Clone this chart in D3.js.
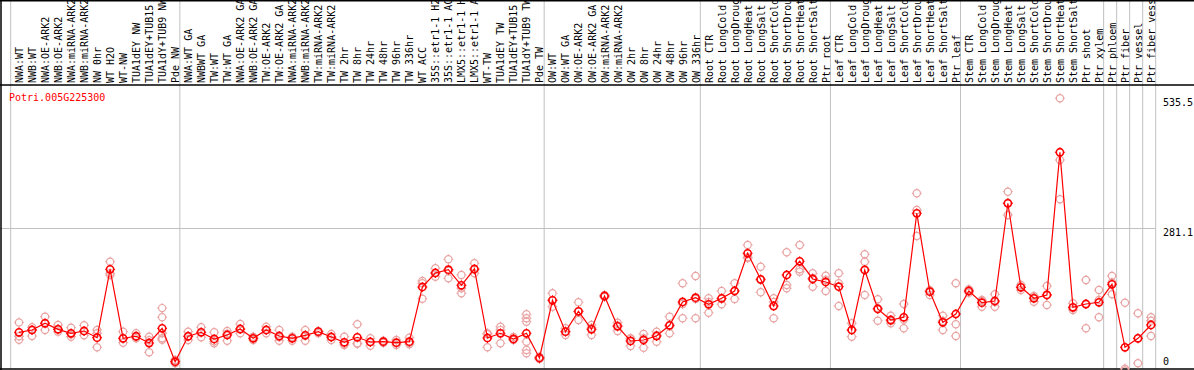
<!DOCTYPE html>
<html>
<head>
<meta charset="utf-8">
<script src="https://cdn.jsdelivr.net/npm/d3@7"></script>
<style>
  body { margin: 0; background: #fff; }
  svg { display: block; }
  text { font-family: "DejaVu Sans Mono", monospace; font-size: 10px; }
</style>
</head>
<body>
<div id="chart"></div>
<script>
// gene shown
const geneId = "Potri.005G225300";

// sample labels (already cut to 14 chars like the original)
const samples = [
  "NWA:WT", "NWB:WT", "NWA:OE-ARK2", "NWB:OE-ARK2", "NWA:miRNA-ARK2", "NWB:miRNA-ARK2",
  "NW 0hr", "WT H2O", "WT-NW", "TUA1dEY NW", "TUA1dEY+TUB15", "TUA1dY+TUB9 NW", "Pde NW",
  "NWA:WT GA", "NWBWT GA", "TW:WT", "TW:WT GA", "NWA:OE-ARK2 GA", "NWB:OE-ARK2 GA",
  "TW:OE-ARK2", "TW:OE-ARK2 GA", "NWA:miRNA-ARK2", "NWB:miRNA-ARK2", "TW:miRNA-ARK2",
  "TW:miRNA-ARK2", "TW 2hr", "TW 8hr", "TW 24hr", "TW 48hr", "TW 96hr", "TW 336hr",
  "WT ACC", "35S::etr1-1 H2", "35S::etr1-1 AC", "LMX5::etr1-1 H", "LMX5::etr1-1 A",
  "WT-TW", "TUA1dEY TW", "TUA1dEY+TUB15", "TUA1dY+TUB9 TW", "Pde TW",
  "OW:WT", "OW:WT GA", "OW:OE-ARK2", "OW:OE-ARK2 GA", "OW:miRNA-ARK2", "OW:miRNA-ARK2",
  "OW 2hr", "OW 8hr", "OW 24hr", "OW 48hr", "OW 96hr", "OW 336hr",
  "Root CTR", "Root LongCold", "Root LongDroug", "Root LongHeat", "Root LongSalt",
  "Root ShortCold", "Root ShortDrou", "Root ShortHeat", "Root ShortSalt", "Ptr root",
  "Leaf CTR", "Leaf LongCold", "Leaf LongDroug", "Leaf LongHeat", "Leaf LongSalt",
  "Leaf ShortCold", "Leaf ShortDrou", "Leaf ShortHeat", "Leaf ShortSalt", "Ptr leaf",
  "Stem CTR", "Stem LongCold", "Stem LongDroug", "Stem LongHeat", "Stem LongSalt",
  "Stem ShortCold", "Stem ShortDrou", "Stem ShortHeat", "Stem ShortSalt", "Ptr shoot",
  "Ptr xylem", "Ptr phloem", "Ptr fiber", "Ptr vessel", "Ptr fiber vess"
];

// how many samples in each group (grey separators)
const groupSizes = [13, 28, 12, 10, 10, 11, 1, 1, 1, 1];

// mean expression per sample
const means = [
  77.7, 82.2, 95.3, 83.5, 75.7, 80.2, 67.1, 200.9, 65.9, 69.9, 56.7, 85.5, 20.2,
  69.9, 77.7, 64.6, 72.4, 84.1, 65.9, 82.2, 70.4, 65.9, 71.8, 78.9, 68.5, 58.1,
  67.9, 58.7, 59.3, 57.3, 59.3, 166.3, 193.7, 200.2, 169.6, 201.5, 66.5, 75.7,
  64.6, 75.7, 27.4,
  140.3, 78.9, 118.8, 83.5, 148.7, 89.4, 60.7, 62.6, 70.4, 91.4, 137.0, 145.4,
  132.5, 144.2, 158.5, 232.2, 181.4, 129.1, 189.8, 216.6, 182.0, 176.1,
  166.9, 82.2, 199.6, 123.3, 101.7, 107.0, 310.5, 157.1, 97.2, 113.5,
  158.5, 135.6, 138.9, 330.1, 165.7, 144.2, 150.7, 429.9, 126.6, 133.0, 136.4,
  171.6, 48.3, 65.9, 92.0
];

// individual replicates per sample
const replicates = [
  [97, 63, 70], [87.5, 70.4, 82], [108.2, 82.2, 96], [92, 78.9, 84], [86.7, 69.1, 74],
  [91.4, 80.2, 72], [82.2, 75.7, 48.3], [215.8, 193.1, 189.8], [78.9, 57.3, 65],
  [75.7, 65.9, 70], [69.1, 38.5, 62], [125, 107, 76, 63, 66], [23.5, 17, 20],
  [78.9, 62.6, 70], [87.5, 67.9, 78], [77.7, 56.2, 60], [80.2, 61.2, 75], [93.9, 75.7, 84],
  [69.1, 62.6, 66], [88.6, 75.7, 82], [82.2, 61.2, 68], [69.1, 61.2, 67], [82.2, 61.2, 72],
  [80, 76, 79], [74.3, 62.6, 68], [69.1, 52.8, 55], [93.3, 56.2, 55], [65.9, 51.5, 59],
  [61, 57, 59], [62.6, 52.8, 57], [67.1, 54.2, 57], [178, 173.5, 143.4], [202.9, 186.5, 194],
  [220.5, 183.3, 198], [189.8, 154, 164], [212.7, 193.1, 200], [75.7, 48.3, 74],
  [88.6, 56.2, 82], [68.5, 64.6, 62.6], [112.9, 105.1, 98.4, 59.3, 43.0, 36.6],
  [29.9, 27.4, 25.4],
  [154, 127.8, 141], [85.5, 72.4, 79], [136.4, 101.7, 118], [92, 72.4, 86],
  [150.7, 146.7, 148.7], [96.5, 80.2, 91], [65.9, 50.9, 65], [74.3, 47.5, 66],
  [78.9, 59.3, 72], [108.2, 75.7, 90], [173.5, 105.1, 133], [187.8, 105.1, 143],
  [144.2, 116, 137], [158.5, 132.5, 143], [173.5, 142.8, 159], [248.5, 224.4, 223],
  [206, 155.9, 180], [144.2, 105.1, 137], [234.2, 170.2, 163.8], [248.5, 200.9, 196.2],
  [193.1, 166.9, 184], [188.4, 158.5, 180],
  [193.1, 173.5, 129.1], [95.3, 69.1, 82], [230.3, 215.8, 150.7], [142.2, 100.4, 125],
  [110.2, 95.3, 100], [133, 85.5, 102], [349.6, 317, 266.1], [150.7, 160, 159],
  [110.2, 82.2, 100], [173.5, 93.3, 70.4],
  [158.5, 162, 155], [140.9, 127.8, 139], [152, 127.8, 137], [352.8, 307.2, 331],
  [170.2, 160.4, 166], [148.7, 137.5, 146], [168.3, 131.1, 151], [535.5, 414.8, 337.9],
  [134.4, 121.3, 125], [180, 85.5, 133], [160.4, 107, 141],
  [187.8, 152, 175], [135.6, 6.5, 3], [114.8, 17, 66], [107, 100.4, 70.4]
];

// right side tick values
const tickValues = [535.5, 281.1, 0];
const gridValues = [281.1];

const width = 1194, height = 370;
const headerBottom = 85;
const plotLeft = 10.7, plotRight = 1155.7;

const svg = d3.select("#chart").append("svg")
  .attr("width", width)
  .attr("height", height);

const x = d3.scaleBand()
  .domain(samples.map((_, i) => i))
  .range([plotLeft, plotRight]);
const cx = i => x(i) + x.bandwidth() / 2 + 1.8;

const y = d3.scaleLinear()
  .domain([0, 535.5])
  .range([372, 98.3]);

// group separators
let bounds = [0];
groupSizes.forEach(s => bounds.push(bounds[bounds.length - 1] + s));
svg.append("g")
  .selectAll("line")
  .data(bounds)
  .join("line")
  .attr("x1", b => b < samples.length ? x(b) : plotRight)
  .attr("x2", b => b < samples.length ? x(b) : plotRight)
  .attr("y1", 0)
  .attr("y2", 369)
  .attr("stroke", "#c0c0c0")
  .attr("stroke-width", 1);

// horizontal grid
svg.append("g")
  .selectAll("line")
  .data(gridValues)
  .join("line")
  .attr("x1", 0)
  .attr("x2", plotRight)
  .attr("y1", d => Math.round(y(d)) + 0.5)
  .attr("y2", d => Math.round(y(d)) + 0.5)
  .attr("stroke", "#c0c0c0");

// frame lines
const frame = svg.append("g").attr("stroke", "#000").attr("stroke-width", 1.5);
frame.append("line").attr("x1", 0).attr("x2", width).attr("y1", 0.75).attr("y2", 0.75);
frame.append("line").attr("x1", 0).attr("x2", width).attr("y1", headerBottom).attr("y2", headerBottom);
frame.append("line").attr("x1", 0).attr("x2", width).attr("y1", 369).attr("y2", 369);
frame.append("line").attr("x1", 1).attr("x2", 1).attr("y1", 0).attr("y2", 370);

// sample labels (vertical)
svg.append("g")
  .selectAll("text")
  .data(samples)
  .join("text")
  .attr("transform", (d, i) => `translate(${cx(i) + 4},${headerBottom - 2}) rotate(-90)`)
  .attr("fill", "#000")
  .text(d => d);

// gene title
svg.append("text")
  .attr("x", 9)
  .attr("y", 101)
  .attr("fill", "#ff0000")
  .text(geneId);

// right axis labels
svg.append("g")
  .selectAll("text")
  .data(tickValues)
  .join("text")
  .attr("x", 1163)
  .attr("y", d => d === 0 ? 365 : y(d) + 8)
  .attr("fill", "#000")
  .text(d => d === 0 ? "0" : d3.format(".1f")(d));

// marker: small circle with little ticks
function marker(g, color, sw) {
  g.append("circle").attr("r", 3.6).attr("fill", "none").attr("stroke", color).attr("stroke-width", sw);
  [[0, -1], [0, 1], [-1, 0], [1, 0]].forEach(([dx, dy]) => {
    g.append("line")
      .attr("x1", dx * 3.6).attr("y1", dy * 3.6)
      .attr("x2", dx * 5).attr("y2", dy * 5)
      .attr("stroke", color).attr("stroke-width", 1);
  });
}

// replicates
const repData = [];
replicates.forEach((r, i) => r.forEach(v => repData.push({ i, v })));
svg.append("g")
  .selectAll("g")
  .data(repData)
  .join("g")
  .attr("transform", d => `translate(${cx(d.i)},${y(d.v)})`)
  .each(function () { marker(d3.select(this), "#e9a3a3", 1.2); });

// mean line
const line = d3.line()
  .x((d, i) => cx(i))
  .y(d => y(d));
svg.append("path")
  .datum(means)
  .attr("d", line)
  .attr("fill", "none")
  .attr("stroke", "#ff0000")
  .attr("stroke-width", 1.2);

// mean markers
svg.append("g")
  .selectAll("g")
  .data(means)
  .join("g")
  .attr("transform", (d, i) => `translate(${cx(i)},${y(d)})`)
  .each(function () { marker(d3.select(this), "#ff0000", 1.6); });
</script>
</body>
</html>
